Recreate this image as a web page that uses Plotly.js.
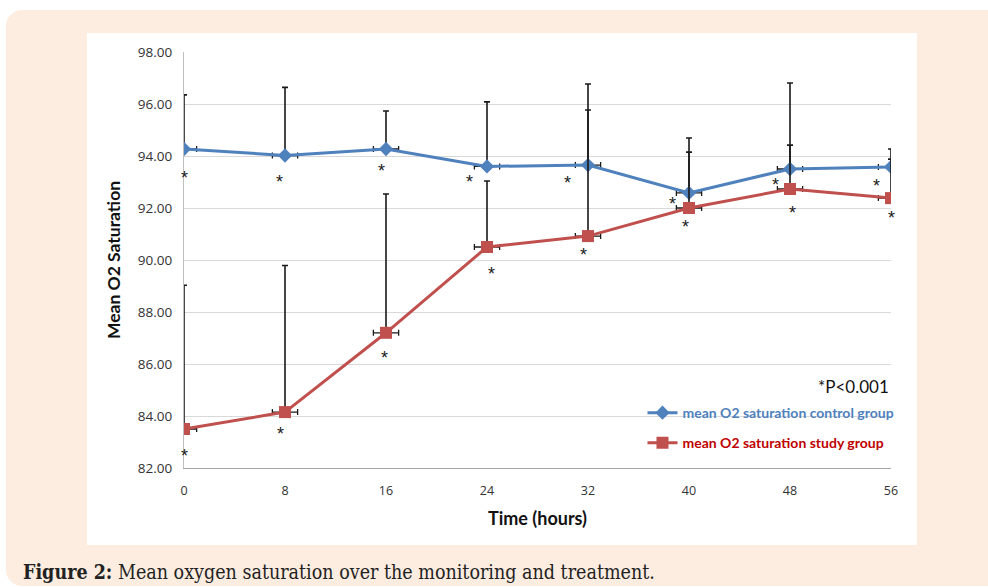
<!DOCTYPE html>
<html>
<head>
<meta charset="utf-8">
<script src="https://cdn.plot.ly/plotly-3.0.1.min.js"></script>
<style>
  html, body { margin: 0; padding: 0; background: #ffffff; }
  #panel { position: absolute; left: 6px; top: 10px; width: 1000px; height: 576px;
           background: #FDEDE0; border-radius: 16px; }
  #chart { position: absolute; left: 0; top: 0; width: 988px; height: 587px; }
</style>
</head>
<body>
<div id="panel"></div>
<div id="chart"></div>
<script>
// ---- data ----
const hours = [0, 8, 16, 24, 32, 40, 48, 56];
const controlMean = [94.27, 94.02, 94.27, 93.60, 93.65, 92.58, 93.50, 93.58];
const controlErrUp = [2.08, 2.62, 1.46, 2.48, 2.12, 2.11, 0.92, 0.69];
const studyMean = [83.50, 84.15, 87.20, 90.50, 90.92, 92.00, 92.73, 92.38];
const studyErrUp = [5.53, 5.64, 5.34, 2.54, 5.85, 2.15, 4.08, 1.50];
const timeErr = 1;
const xTicks = [0, 8, 16, 24, 32, 40, 48, 56];
const controlName = 'mean O2 saturation control group';
const studyName = 'mean O2 saturation study group';
const sigMark = '*';
const sigNote = '*P<0.001';
const xTitle = 'Time (hours)';
const yTitle = 'Mean O2 Saturation';
const caption = '<b>Figure 2:</b> Mean oxygen saturation over the monitoring and treatment.';

// ---- styles ----
const blue = '#4F81BD', red = '#C0504D', errColor = '#1a1a1a';
const font = 'Lato, "Open Sans", sans-serif';
const tickFont = '"Open Sans", Lato, sans-serif';
// pixel offsets of the significance asterisks relative to each point
const ctrlShift = [[0, -29], [-6, -27], [-5, -22], [-18, -16], [-21, -18], [-17, -11], [-15, -16], [-15, -19]];
const studyShift = [[0, -27], [-5, -22], [-2, -25], [4, -27], [-5, -19], [-4, -19], [2, -24], [0, -20]];

const zeros = hours.map(() => 0);

const traces = [
  {
    x: hours, y: controlMean, name: '<span style="color:#4F81BD"><b>' + controlName + '</b></span>',
    type: 'scatter', mode: 'lines+markers',
    line: {color: blue, width: 3},
    marker: {symbol: 'diamond', size: 11, color: blue},
    error_y: {type: 'data', symmetric: false, array: controlErrUp, arrayminus: zeros,
              color: errColor, thickness: 1.6, width: 3},
    error_x: {type: 'constant', value: timeErr, color: errColor, thickness: 1.3, width: 3},
    legend: 'legend'
  },
  {
    x: hours, y: studyMean, name: '<span style="color:#C00000"><b>' + studyName + '</b></span>',
    type: 'scatter', mode: 'lines+markers',
    line: {color: red, width: 3},
    marker: {symbol: 'square', size: 12, color: red},
    error_y: {type: 'data', symmetric: false, array: studyErrUp, arrayminus: zeros,
              color: errColor, thickness: 1.6, width: 3},
    error_x: {type: 'constant', value: timeErr, color: errColor, thickness: 1.3, width: 3},
    legend: 'legend2'
  }
];

const annotations = [];
const astFont = {family: '"Liberation Sans", Arial, sans-serif', size: 18, color: '#1a1a1a'};
hours.forEach((h, i) => {
  annotations.push({x: h, y: controlMean[i], xref: 'x', yref: 'y', text: sigMark, showarrow: false,
    xshift: ctrlShift[i][0], yshift: ctrlShift[i][1], font: astFont});
  annotations.push({x: h, y: studyMean[i], xref: 'x', yref: 'y', text: sigMark, showarrow: false,
    xshift: studyShift[i][0], yshift: studyShift[i][1], font: astFont});
});
annotations.push({xref: 'paper', yref: 'paper', x: 1.0, y: 0.197, xanchor: 'right', yanchor: 'middle',
  text: sigNote, showarrow: false, font: {family: font, size: 17, color: '#111'}});
annotations.push({xref: 'paper', yref: 'paper', x: -0.231, y: -0.25, xanchor: 'left', yanchor: 'middle',
  text: caption, showarrow: false, font: {family: '"DejaVu Serif Condensed", "DejaVu Serif", serif', size: 19.5, color: '#222'}});

const layout = {
  width: 988, height: 587,
  margin: {l: 184, r: 97, t: 52, b: 119},
  paper_bgcolor: 'rgba(0,0,0,0)',
  plot_bgcolor: 'rgba(0,0,0,0)',
  showlegend: true,
  xaxis: {
    range: [0, 56], tickvals: xTicks, ticktext: xTicks.map(String),
    showgrid: false, zeroline: false, showline: true, linecolor: '#a6a6a6', linewidth: 1,
    ticks: '', ticklabelstandoff: 11,
    tickfont: {family: tickFont, size: 12.5, color: '#333'},
    title: {text: '<b>' + xTitle + '</b>', font: {family: font, size: 18, color: '#111'}, standoff: 14}
  },
  yaxis: {
    range: [82, 98], dtick: 2, tick0: 82, tickformat: '.2f',
    showgrid: true, gridcolor: '#d9d9d9', gridwidth: 1,
    zeroline: false, showline: true, linecolor: '#bfbfbf', linewidth: 1,
    ticks: '', ticklabelstandoff: 8,
    tickfont: {family: tickFont, size: 13.5, color: '#333'},
    title: {text: '<b>' + yTitle + '</b>', font: {family: font, size: 17.5, color: '#111'}, standoff: 12}
  },
  legend: {x: 0.6485, y: 0.132, xanchor: 'left', yanchor: 'middle', bgcolor: 'rgba(0,0,0,0)',
           font: {family: font, size: 14}, itemwidth: 30},
  legend2: {x: 0.6485, y: 0.06, xanchor: 'left', yanchor: 'middle', bgcolor: 'rgba(0,0,0,0)',
           font: {family: font, size: 14}, itemwidth: 30},
  shapes: [
    {type: 'rect', xref: 'paper', yref: 'paper', x0: -0.1372, x1: 1.0368, y0: -0.1851, y1: 1.0457,
     fillcolor: '#ffffff', line: {width: 0}, layer: 'below'}
  ],
  annotations: annotations
};

Plotly.newPlot('chart', traces, layout, {displayModeBar: false, staticPlot: true});
</script>
</body>
</html>
